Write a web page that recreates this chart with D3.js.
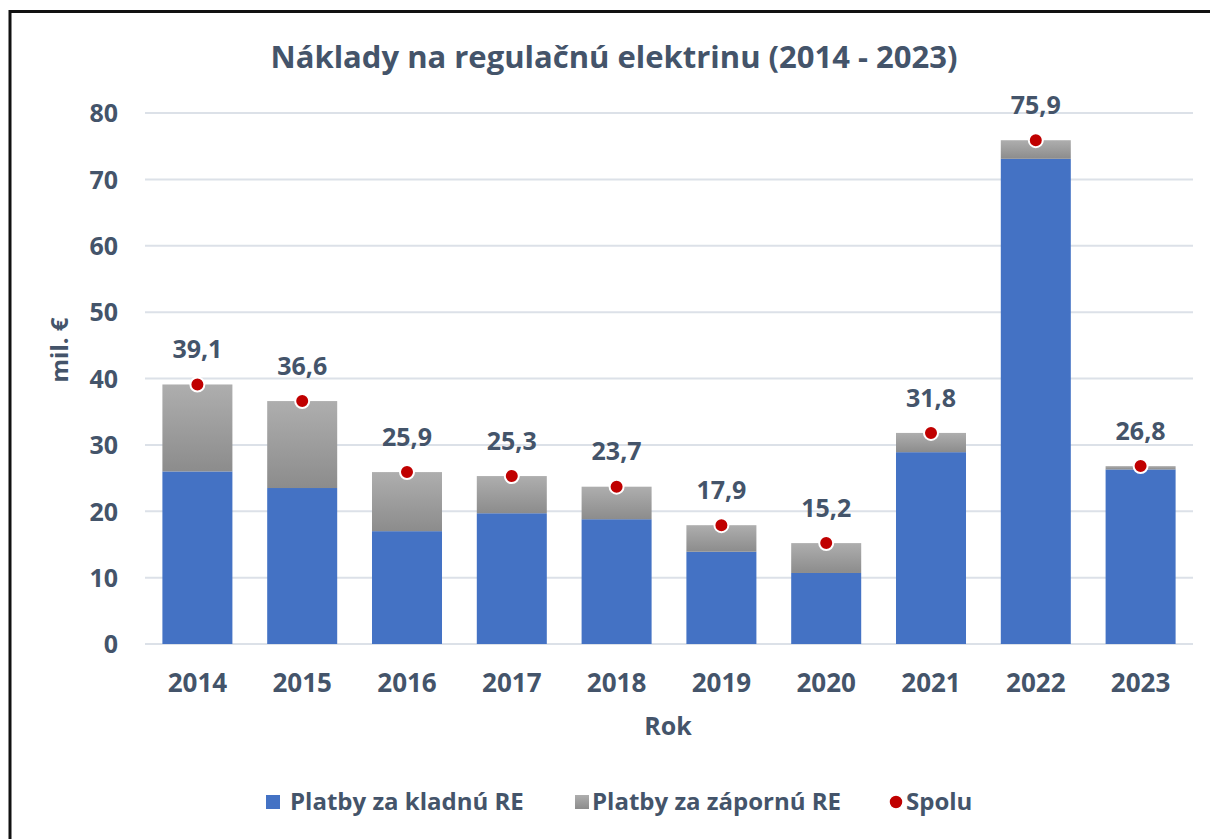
<!DOCTYPE html>
<html><head><meta charset="utf-8">
<script src="https://cdn.jsdelivr.net/npm/d3@7"></script>
<style>
html,body{margin:0;padding:0;background:#fff;}
svg{display:block;}
</style></head>
<body>
<svg id="chart" width="1210" height="839"></svg>
<script>
const years = ["2014","2015","2016","2017","2018","2019","2020","2021","2022","2023"];
const kladna = [26.0, 23.5, 17.0, 19.7, 18.8, 13.9, 10.7, 28.9, 73.1, 26.3];
const spolu = [39.1, 36.6, 25.9, 25.3, 23.7, 17.9, 15.2, 31.8, 75.9, 26.8];
const zaporna = spolu.map((t, i) => +(t - kladna[i]).toFixed(1));
const yTicks = [0, 10, 20, 30, 40, 50, 60, 70, 80];
const seriesNames = ["Platby za kladnú RE", "Platby za zápornú RE", "Spolu"];
const titleText = "Náklady na regulačnú elektrinu (2014 - 2023)";
const xTitle = "Rok";
const yTitle = "mil. €";

const txtColor = "#44546A";
const blue = "#4472C4";
const red = "#C00000";
const font = "'Open Sans', sans-serif";

const svg = d3.select("#chart");
const defs = svg.append("defs");
const grad = defs.append("linearGradient").attr("id", "greyGrad").attr("x1", 0).attr("y1", 0).attr("x2", 0).attr("y2", 1);
grad.append("stop").attr("offset", "0%").attr("stop-color", "#AEAEAE");
grad.append("stop").attr("offset", "100%").attr("stop-color", "#8C8C8C");

// frame
svg.append("rect").attr("x", 0).attr("y", 0).attr("width", 1210).attr("height", 839).attr("fill", "#fff");
svg.append("path").attr("d", "M10,839 V11.5 H1210").attr("fill", "none").attr("stroke", "#111").attr("stroke-width", 3);

const x = d3.scaleBand().domain(years).range([145, 1193]).paddingInner(0.332).paddingOuter(0.166);
const y = d3.scaleLinear().domain([0, 80]).range([644, 113]);

// gridlines
svg.append("g").selectAll("line").data(yTicks).join("line")
  .attr("x1", 145).attr("x2", 1193)
  .attr("y1", d => y(d)).attr("y2", d => y(d))
  .attr("stroke", "#DCE1E8").attr("stroke-width", 2);

// y axis labels
const yAxis = d3.axisLeft(y).tickValues(yTicks).tickSize(0).tickPadding(0);
const yg = svg.append("g").attr("transform", "translate(118,0)").call(yAxis);
yg.select(".domain").remove();
yg.selectAll("text").attr("fill", txtColor).attr("font-family", font)
  .attr("font-weight", "bold").attr("font-size", 25).attr("dy", "0.35em");

// x axis labels
const xAxis = d3.axisBottom(x).tickSize(0).tickPadding(0);
const xg = svg.append("g").attr("transform", "translate(0,683)").call(xAxis);
xg.select(".domain").remove();
xg.selectAll("text").attr("fill", txtColor).attr("font-family", font)
  .attr("font-weight", "bold").attr("font-size", 26).attr("dy", "0.35em");

// bars
const g = svg.append("g");
g.selectAll("rect.k").data(years).join("rect").attr("class", "k")
  .attr("x", d => x(d)).attr("width", x.bandwidth())
  .attr("y", (d, i) => y(kladna[i])).attr("height", (d, i) => y(0) - y(kladna[i]))
  .attr("fill", blue);
g.selectAll("rect.z").data(years).join("rect").attr("class", "z")
  .attr("x", d => x(d)).attr("width", x.bandwidth())
  .attr("y", (d, i) => y(kladna[i] + zaporna[i])).attr("height", (d, i) => y(kladna[i]) - y(kladna[i] + zaporna[i]))
  .attr("fill", "url(#greyGrad)");

// dots
g.selectAll("circle").data(years).join("circle")
  .attr("cx", d => x(d) + x.bandwidth() / 2).attr("cy", (d, i) => y(spolu[i]))
  .attr("r", 7).attr("fill", red).attr("stroke", "#fff").attr("stroke-width", 2);

// value labels
g.selectAll("text.v").data(years).join("text").attr("class", "v")
  .attr("x", d => x(d) + x.bandwidth() / 2).attr("y", (d, i) => y(spolu[i]) - 35)
  .attr("text-anchor", "middle").attr("dy", "0.35em")
  .attr("fill", txtColor).attr("font-family", font).attr("font-weight", "bold").attr("font-size", 25)
  .text((d, i) => spolu[i].toFixed(1).replace(".", ","));

// title
svg.append("text").attr("x", 614).attr("y", 57).attr("dy", "0.35em").attr("text-anchor", "middle")
  .attr("fill", txtColor).attr("font-family", font).attr("font-weight", "bold").attr("font-size", 31)
  .text(titleText);

// axis titles
svg.append("text").attr("x", 668).attr("y", 726).attr("dy", "0.35em").attr("text-anchor", "middle")
  .attr("fill", txtColor).attr("font-family", font).attr("font-weight", "bold").attr("font-size", 25)
  .text(xTitle);
svg.append("text").attr("transform", "translate(60,350) rotate(-90)").attr("dy", "0.35em").attr("text-anchor", "middle")
  .attr("fill", txtColor).attr("font-family", font).attr("font-weight", "bold").attr("font-size", 24)
  .text(yTitle);

// legend
const lg = svg.append("g").attr("transform", "translate(0,802)");
const legendItems = [
  {name: seriesNames[0], x: 266, tx: 290, type: "rect", fill: blue},
  {name: seriesNames[1], x: 575, tx: 592, type: "rect", fill: "url(#greyGrad)"},
  {name: seriesNames[2], x: 889, tx: 906, type: "circle", fill: red}
];
legendItems.forEach(it => {
  if (it.type === "rect") {
    lg.append("rect").attr("x", it.x).attr("y", -7).attr("width", 14).attr("height", 14).attr("fill", it.fill);
  } else {
    lg.append("circle").attr("cx", it.x + 7).attr("cy", 0).attr("r", 7).attr("fill", it.fill).attr("stroke", "#fff").attr("stroke-width", 1.5);
  }
  lg.append("text").attr("x", it.tx).attr("y", 0).attr("dy", "0.35em")
    .attr("fill", txtColor).attr("font-family", font).attr("font-weight", "bold").attr("font-size", 24)
    .text(it.name);
});
</script>
</body></html>
